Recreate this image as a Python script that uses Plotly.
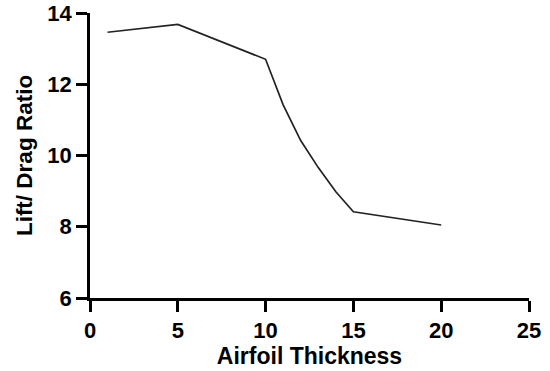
import plotly.graph_objects as go

thickness = [1, 5, 10, 11, 12, 13, 14, 15, 20]
lift_drag = [13.46, 13.68, 12.70, 11.42, 10.42, 9.66, 8.98, 8.42, 8.05]

x_ticks = [0, 5, 10, 15, 20, 25]
y_ticks = [6, 8, 10, 12, 14]

font_family = "Liberation Sans, Arial, sans-serif"

fig = go.Figure()
fig.add_trace(go.Scatter(
    x=thickness, y=lift_drag, mode="lines",
    line=dict(color="#222222", width=1.7),
    showlegend=False, hoverinfo="skip",
))

fig.update_layout(
    width=550, height=371,
    margin=dict(l=90, r=21, t=13, b=73),
    paper_bgcolor="white", plot_bgcolor="white",
    font=dict(family=font_family, color="black"),
)
fig.update_xaxes(
    range=[0, 25], tickvals=x_ticks, ticktext=["<b>%d</b>" % v for v in x_ticks],
    showgrid=False, zeroline=False, automargin=False, ticklabeloverflow="allow",
    showline=True, linecolor="black", linewidth=2.5,
    ticks="outside", ticklen=11, tickwidth=2.5, tickcolor="black",
    tickfont=dict(size=22, family=font_family, color="black"),
    title=dict(text="<b>Airfoil Thickness</b>", font=dict(size=23, family=font_family, color="black"), standoff=6),
)
fig.update_yaxes(
    range=[6, 14], tickvals=y_ticks, ticktext=["<b>%d</b>" % v for v in y_ticks],
    showgrid=False, zeroline=False, automargin=False, ticklabeloverflow="allow",
    showline=True, linecolor="black", linewidth=2.5,
    ticks="outside", ticklen=11, tickwidth=2.5, tickcolor="black",
    tickfont=dict(size=22, family=font_family, color="black"),
    title=dict(text="<b>Lift/ Drag Ratio</b>", font=dict(size=22.5, family=font_family, color="black"), standoff=9),
)

fig.write_html("out.html", config={"displayModeBar": False},
               post_script="document.body.style.margin='0px';")
